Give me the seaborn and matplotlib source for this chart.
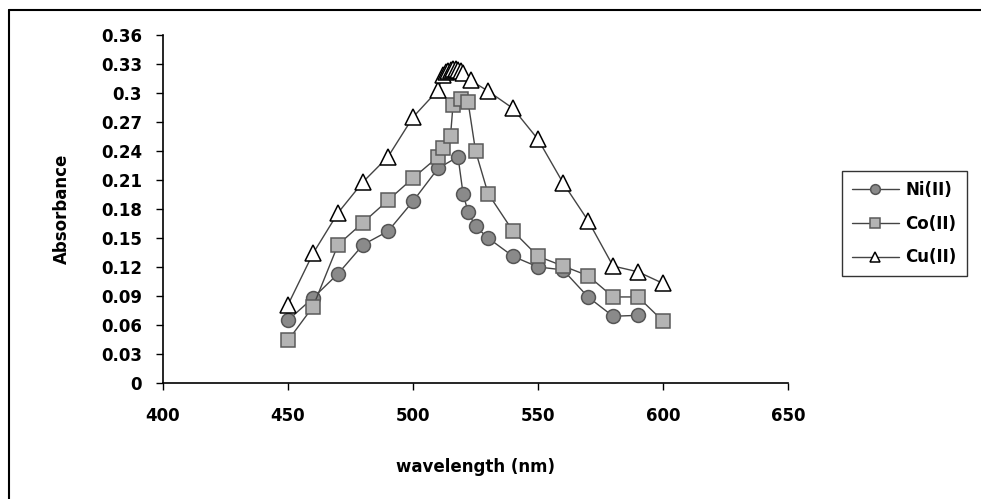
import numpy as np
import pandas as pd
import seaborn as sns
import matplotlib
matplotlib.use("Agg")
import matplotlib.pyplot as plt
from matplotlib.lines import Line2D

# values
ni_wl = [450, 460, 470, 480, 490, 500, 510, 518, 520, 522, 525, 530, 540, 550, 560, 570, 580, 590]
ni_abs = [0.065, 0.088, 0.113, 0.143, 0.157, 0.188, 0.222, 0.234, 0.196, 0.177, 0.162, 0.150,
          0.131, 0.120, 0.117, 0.089, 0.069, 0.070]

co_wl = [450, 460, 470, 480, 490, 500, 510, 512, 515, 516, 519, 522, 525, 530, 540, 550, 560,
         570, 580, 590, 600]
co_abs = [0.044, 0.079, 0.143, 0.166, 0.189, 0.212, 0.234, 0.243, 0.256, 0.288, 0.294, 0.291,
          0.240, 0.196, 0.157, 0.131, 0.121, 0.111, 0.089, 0.089, 0.064]

cu_wl = [450, 460, 470, 480, 490, 500, 510, 512, 513, 514, 515, 516, 517, 518, 519, 520, 523,
         530, 540, 550, 560, 570, 580, 590, 600]
cu_abs = [0.081, 0.134, 0.176, 0.208, 0.234, 0.275, 0.303, 0.319, 0.322, 0.323, 0.324, 0.325,
          0.325, 0.324, 0.323, 0.321, 0.313, 0.302, 0.284, 0.252, 0.207, 0.168, 0.121, 0.115, 0.103]

x_ticks = [400, 450, 500, 550, 600, 650]
y_ticks = [0, 0.03, 0.06, 0.09, 0.12, 0.15, 0.18, 0.21, 0.24, 0.27, 0.3, 0.33, 0.36]

sns.set_style("white")
plt.rcParams['font.family'] = ['DejaVu Sans']
plt.rcParams['text.color'] = 'black'
plt.rcParams['axes.labelcolor'] = 'black'
plt.rcParams['xtick.color'] = 'black'
plt.rcParams['ytick.color'] = 'black'

fig = plt.figure(figsize=(9.81, 4.99), dpi=100)
ax = fig.add_axes([0.1662, 0.2325, 0.6371, 0.6974])

df = pd.concat([
    pd.DataFrame({"wl": ni_wl, "a": ni_abs, "ion": "Ni(II)"}),
    pd.DataFrame({"wl": co_wl, "a": co_abs, "ion": "Co(II)"}),
    pd.DataFrame({"wl": cu_wl, "a": cu_abs, "ion": "Cu(II)"}),
])

styles = {
    "Ni(II)": dict(marker="o", mfc="#8a8a8a", mec="#555555", ms=10),
    "Co(II)": dict(marker="s", mfc="#b4b4b4", mec="#5a5a5a", ms=10),
    "Cu(II)": dict(marker="^", mfc="white", mec="black", ms=11),
}

for ion, sub in df.groupby("ion", sort=False):
    st = styles[ion]
    sns.lineplot(data=sub, x="wl", y="a", ax=ax, sort=False, estimator=None,
                 color="#444444", linewidth=1, marker=st["marker"], markersize=st["ms"],
                 markerfacecolor=st["mfc"], markeredgecolor=st["mec"], markeredgewidth=1.1,
                 label=ion)

ax.set_xlim(400, 650)
ax.set_ylim(0, 0.36)
ax.set_xticks(x_ticks)
ax.set_yticks(y_ticks)
ax.set_xticklabels([str(t) for t in x_ticks], fontsize=12, fontweight="bold")
ax.set_yticklabels([f"{t:g}" for t in y_ticks], fontsize=12, fontweight="bold")
ax.tick_params(axis="both", direction="out", length=5, width=1, color="black",
               bottom=True, left=True, pad=12)
ax.tick_params(axis="y", pad=10)
for s in ["top", "right"]:
    ax.spines[s].set_visible(False)
for s in ["left", "bottom"]:
    ax.spines[s].set_color("black")
    ax.spines[s].set_linewidth(1.2)

ax.set_xlabel("wavelength (nm)", fontsize=12, fontweight="bold", labelpad=24)
ax.set_ylabel("Absorbance", fontsize=12, fontweight="bold", labelpad=22)

leg = ax.legend(loc="center left", bbox_to_anchor=(1.073, 0.458), frameon=True, fancybox=False,
                prop={"weight": "bold", "size": 12}, handlelength=2.8, borderpad=0.6,
                labelspacing=0.95, handletextpad=0.4)
leg.get_frame().set_edgecolor("black")
leg.get_frame().set_linewidth(1)
for h in leg.legend_handles:
    h.set_markersize(7)

# chart frame (top and left edges)
fig.add_artist(Line2D([9 / 981, 1], [1 - 10 / 499, 1 - 10 / 499], color="black", lw=1.5))
fig.add_artist(Line2D([9 / 981, 9 / 981], [0, 1 - 10 / 499], color="black", lw=1.5))

fig.savefig("out.png", dpi=100, facecolor="white")
